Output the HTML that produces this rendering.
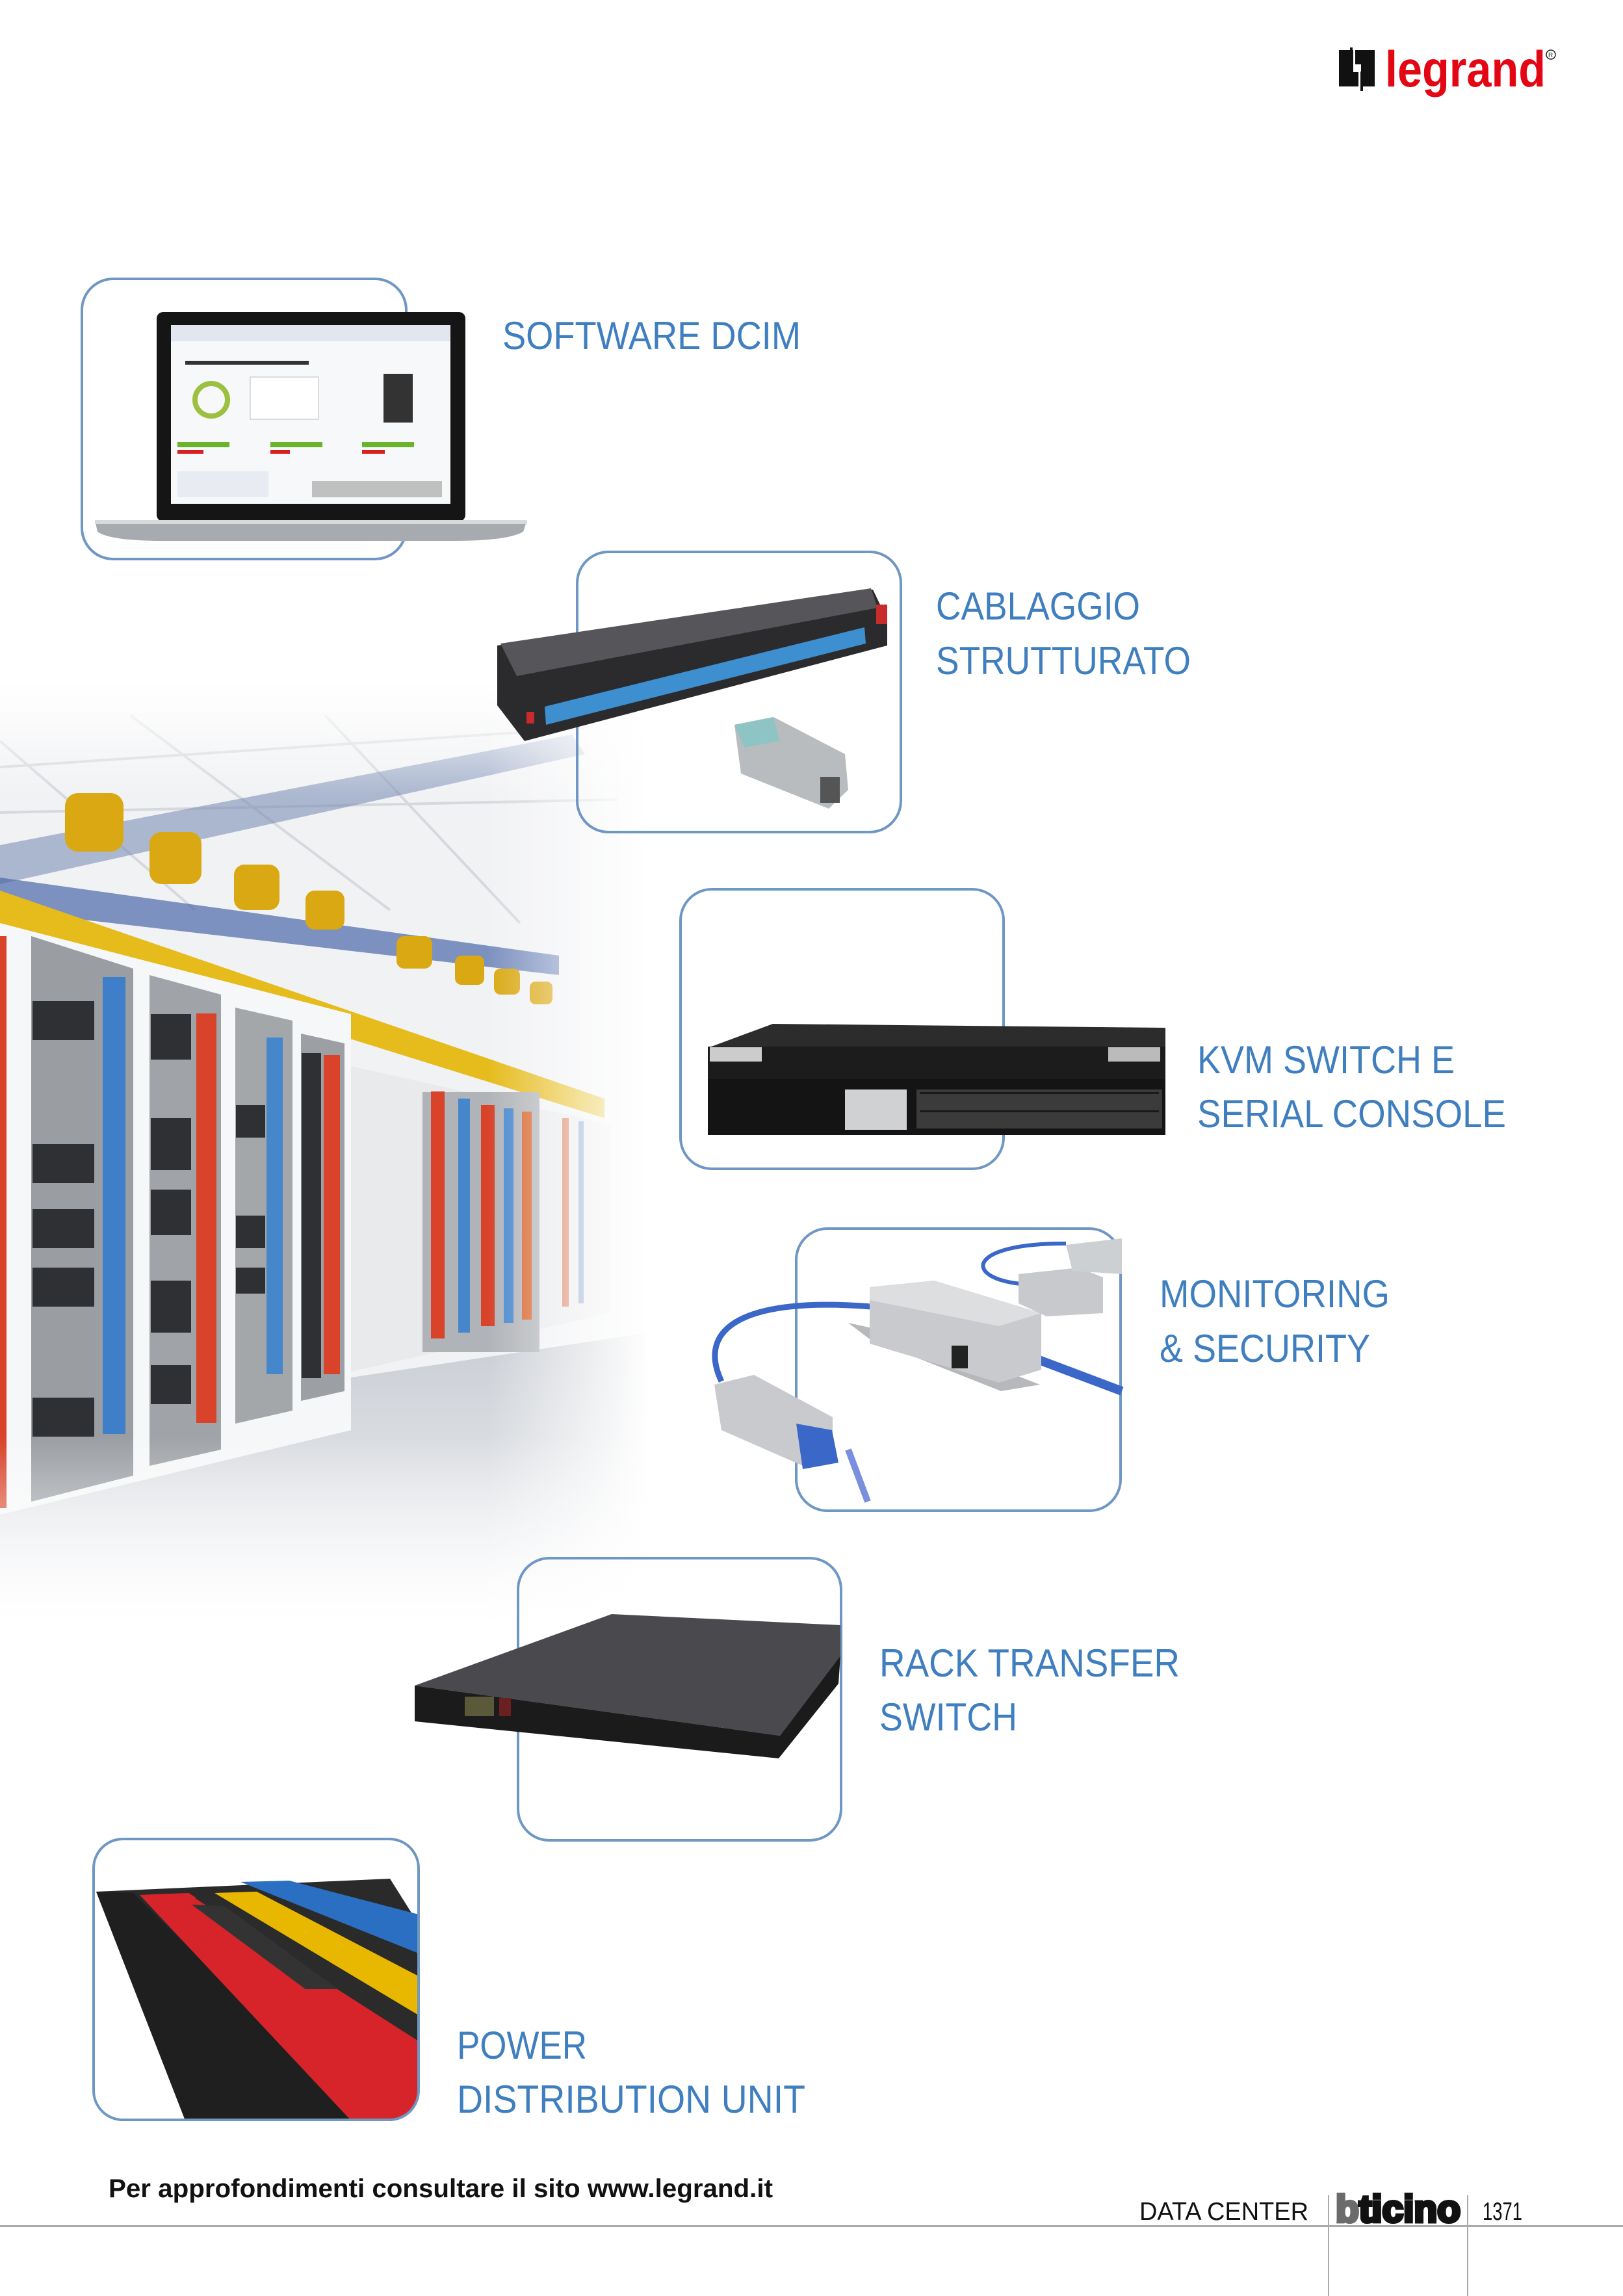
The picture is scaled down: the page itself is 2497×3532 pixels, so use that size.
<!DOCTYPE html>
<html><head><meta charset="utf-8"><style>html,body{margin:0;padding:0;background:#fff}svg{display:block}</style></head>
<body>
<svg width="2497" height="3532" viewBox="0 0 2497 3532" xmlns="http://www.w3.org/2000/svg">
<defs>
<linearGradient id="fadeR" x1="0" y1="0" x2="1" y2="0">
<stop offset="0" stop-color="#fff"/><stop offset="0.75" stop-color="#fff"/><stop offset="1" stop-color="#000"/></linearGradient>
<linearGradient id="fadeV" x1="0" y1="0" x2="0" y2="1">
<stop offset="0" stop-color="#000"/><stop offset="0.12" stop-color="#fff"/><stop offset="0.8" stop-color="#fff"/><stop offset="1" stop-color="#000"/></linearGradient>
<mask id="mR"><rect x="0" y="1050" width="1000" height="1450" fill="url(#fadeR)"/></mask>
<mask id="mV"><rect x="0" y="1050" width="1000" height="1450" fill="url(#fadeV)"/></mask>
<linearGradient id="floor" x1="0" y1="0" x2="0" y2="1"><stop offset="0" stop-color="#c9cdd3"/><stop offset="1" stop-color="#f4f5f7"/></linearGradient>
<clipPath id="c6"><rect x="144" y="2829" width="500" height="432" rx="45"/></clipPath>
</defs>

<g mask="url(#mV)"><g mask="url(#mR)">
<rect x="0" y="1050" width="1000" height="1450" fill="#f1f2f4"/>
<g stroke="#d5d8dd" stroke-width="4" fill="none">
<path d="M0 1180 L900 1120 M0 1250 L950 1230 M200 1100 L600 1400 M500 1100 L800 1420 M0 1140 L300 1400"/>
</g>
<polygon points="0,1300 880,1130 900,1160 0,1360" fill="#7d8fb5" opacity="0.6"/>
<polygon points="0,1350 860,1470 860,1500 0,1400" fill="#4a68a8" opacity="0.7"/>
<polygon points="0,1370 930,1690 930,1720 0,1430" fill="#e6bb1c"/>
<g fill="#d9a812">
<rect x="100" y="1220" width="90" height="90" rx="20"/><rect x="230" y="1280" width="80" height="80" rx="18"/>
<rect x="360" y="1330" width="70" height="70" rx="16"/><rect x="470" y="1370" width="60" height="60" rx="14"/>
<rect x="610" y="1440" width="55" height="50" rx="12"/><rect x="700" y="1470" width="45" height="45" rx="10"/>
<rect x="760" y="1490" width="40" height="40" rx="10"/><rect x="815" y="1510" width="35" height="35" rx="9"/>
</g>
<polygon points="0,2200 1000,2050 1000,2500 0,2500" fill="url(#floor)"/>
<polygon points="0,1420 540,1560 540,2200 0,2330" fill="#f6f7f8"/>
<polygon points="48,1440 205,1490 205,2270 48,2310" fill="#9a9ea3"/>
<polygon points="230,1500 340,1530 340,2230 230,2255" fill="#a0a3a7"/>
<polygon points="362,1550 450,1570 450,2170 362,2190" fill="#a4a7aa"/>
<polygon points="463,1590 530,1605 530,2140 463,2155" fill="#9c9fa3"/>
<g fill="#2e3033">
<rect x="50" y="1540" width="95" height="60"/><rect x="50" y="1760" width="95" height="60"/><rect x="50" y="1860" width="95" height="60"/><rect x="50" y="1950" width="95" height="60"/><rect x="50" y="2150" width="95" height="60"/>
<rect x="232" y="1560" width="62" height="70"/><rect x="232" y="1720" width="62" height="80"/><rect x="232" y="1830" width="62" height="70"/><rect x="232" y="1970" width="62" height="80"/><rect x="232" y="2100" width="62" height="60"/>
<rect x="363" y="1700" width="45" height="50"/><rect x="363" y="1870" width="45" height="50"/><rect x="363" y="1950" width="45" height="40"/>
<rect x="464" y="1620" width="30" height="500"/>
</g>
<rect x="158" y="1503" width="35" height="703" fill="#3f7ec8"/>
<rect x="302" y="1559" width="31" height="630" fill="#d8432a"/>
<rect x="410" y="1596" width="25" height="518" fill="#4687cc"/>
<rect x="498" y="1623" width="25" height="491" fill="#d8432a"/>
<rect x="0" y="1440" width="10" height="880" fill="#d8432a"/>
<polygon points="540,1640 940,1730 940,2020 540,2110" fill="#e9eaec"/>
<rect x="650" y="1680" width="180" height="400" fill="#b0b3b7"/>
<rect x="663" y="1679" width="21" height="380" fill="#d8432a"/>
<rect x="705" y="1690" width="18" height="360" fill="#4687cc"/>
<rect x="740" y="1700" width="21" height="340" fill="#d8432a"/>
<rect x="775" y="1705" width="15" height="330" fill="#4687cc"/>
<rect x="803" y="1710" width="15" height="320" fill="#d8632a"/>
<rect x="865" y="1720" width="10" height="290" fill="#d87a5a"/><rect x="890" y="1725" width="8" height="280" fill="#8aa0c8"/>
</g></g>

<g>
<rect x="2060" y="77" width="22" height="56" fill="#111"/><rect x="2060" y="111" width="30" height="22" fill="#111"/>
<rect x="2085" y="77" width="30" height="22" fill="#111"/><rect x="2094" y="77" width="21" height="56" fill="#111"/>
<rect x="2077" y="73" width="4" height="30" fill="#111"/><rect x="2093" y="110" width="4" height="30" fill="#111"/>
<text x="2131" y="133" font-family="Liberation Sans, sans-serif" font-weight="bold" font-size="78" fill="#e30613" textLength="247" lengthAdjust="spacingAndGlyphs">legrand</text>
<circle cx="2386" cy="84" r="7" fill="none" stroke="#222" stroke-width="1.5"/><text x="2382" y="88" font-family="Liberation Sans, sans-serif" font-size="10" fill="#222">R</text>
</g>

<rect x="126" y="429" width="499" height="431" rx="48" fill="none" stroke="#6f97c3" stroke-width="4"/>
<rect x="241" y="480" width="475" height="322" rx="10" fill="#151515"/>
<rect x="263" y="500" width="430" height="275" fill="#f7f8f9"/>
<rect x="263" y="500" width="430" height="25" fill="#e2e6ee"/>
<rect x="285" y="555" width="190" height="6" fill="#333"/>
<circle cx="325" cy="615" r="25" fill="none" stroke="#9cc040" stroke-width="8"/>
<rect x="385" y="580" width="105" height="65" fill="#fff" stroke="#bbb"/>
<rect x="590" y="575" width="45" height="75" fill="#333"/>
<rect x="273" y="680" width="80" height="8" fill="#6ab42c"/><rect x="273" y="692" width="40" height="6" fill="#d82020"/>
<rect x="416" y="680" width="80" height="8" fill="#6ab42c"/><rect x="416" y="692" width="30" height="6" fill="#d82020"/>
<rect x="557" y="680" width="80" height="8" fill="#6ab42c"/><rect x="557" y="692" width="35" height="6" fill="#d82020"/>
<rect x="273" y="725" width="140" height="40" fill="#e8ecf2"/><rect x="480" y="740" width="200" height="25" fill="#888" opacity="0.5"/>
<path d="M146 800 L811 800 L805 818 Q780 832 700 832 L250 832 Q170 832 150 818 Z" fill="#a7aaae"/>
<rect x="146" y="800" width="665" height="6" fill="#d7d9db"/>

<rect x="888" y="849" width="498" height="431" rx="48" fill="none" stroke="#6f97c3" stroke-width="4"/>
<polygon points="765,993 1343,907 1365,953 1365,993 807,1140 765,1085" fill="#2b2b2d"/>
<polygon points="770,990 1340,905 1350,935 795,1040" fill="#55555a"/>
<polygon points="838,1087 1330,965 1332,990 840,1115" fill="#3d8fcf"/>
<rect x="1348" y="930" width="17" height="30" fill="#c82b2b"/>
<rect x="810" y="1095" width="12" height="18" fill="#c82b2b"/>
<polygon points="1130,1115 1190,1103 1300,1160 1305,1215 1275,1244 1140,1190" fill="#b9bcbf"/>
<polygon points="1130,1115 1190,1103 1200,1140 1145,1150" fill="#8fc4c4"/>
<rect x="1262" y="1195" width="30" height="40" fill="#555"/>

<rect x="1047" y="1368" width="497" height="430" rx="48" fill="none" stroke="#6f97c3" stroke-width="4"/>
<polygon points="1089,1612 1189,1575 1793,1581 1793,1618" fill="#2c2c2c"/>
<rect x="1089" y="1610" width="704" height="50" fill="#1c1c1c"/>
<rect x="1092" y="1611" width="80" height="22" fill="#ccc"/><rect x="1705" y="1611" width="80" height="22" fill="#bbb"/>
<rect x="1089" y="1660" width="704" height="86" fill="#141414"/>
<rect x="1300" y="1676" width="95" height="62" fill="#cfd1d3"/>
<rect x="1410" y="1676" width="378" height="60" fill="#3b3b3b"/>
<g fill="#1a1a1a">
<rect x="1415" y="1680" width="368" height="3"/><rect x="1415" y="1708" width="368" height="3"/>
</g>

<rect x="1225" y="1890" width="499" height="434" rx="48" fill="none" stroke="#6f97c3" stroke-width="4"/>
<path d="M1110 2125 C1070 2040 1150 1995 1340 2010" fill="none" stroke="#3b67c8" stroke-width="9"/>
<path d="M1570 1975 C1480 1965 1490 1912 1640 1913" fill="none" stroke="#3b67c8" stroke-width="6"/>
<path d="M1580 2085 L1726 2140" stroke="#3b67c8" stroke-width="14"/>
<path d="M1305 2230 L1335 2310" stroke="#7a8fdd" stroke-width="10"/>
<polygon points="1305,2035 1338,2060 1540,2140 1600,2130 1420,2060" fill="#b6b8bc"/>
<polygon points="1338,1980 1437,1970 1602,2020 1602,2107 1537,2127 1338,2067" fill="#c8cacd"/>
<polygon points="1338,1980 1437,1970 1602,2020 1537,2040 1338,2000" fill="#dcdee0"/>
<rect x="1464" y="2070" width="25" height="35" fill="#222"/>
<polygon points="1567,1960 1660,1950 1697,1965 1697,2020 1610,2025 1567,2005" fill="#c7c9cc"/>
<polygon points="1640,1915 1726,1905 1726,1960 1650,1955" fill="#cdd0d3"/>
<polygon points="1099,2130 1160,2115 1281,2180 1281,2240 1240,2257 1110,2200" fill="#c8cacd"/>
<polygon points="1225,2190 1280,2200 1290,2250 1235,2260" fill="#3b67c8"/>

<rect x="797" y="2397" width="497" height="434" rx="48" fill="none" stroke="#6f97c3" stroke-width="4"/>
<polygon points="638,2593 941,2483 1293,2500 1293,2547 1200,2670" fill="#4a4a4e"/>
<polygon points="638,2593 1200,2670 1293,2547 1290,2590 1198,2705 638,2648" fill="#1b1b1b"/>
<rect x="715" y="2610" width="45" height="30" fill="#5a5a3a"/><rect x="768" y="2612" width="18" height="28" fill="#6a2020"/>

<g clip-path="url(#c6)">
<polygon points="148,2910 600,2890 644,2960 644,3262 285,3262" fill="#2a2a2a"/>
<polygon points="148,2910 205,2912 560,3262 285,3262" fill="#1f1f1f"/>
<polygon points="215,2915 290,2912 644,3130 644,3262 540,3262" fill="#d6242a"/>
<polygon points="300,2920 330,2915 644,3100 644,3140" fill="#2b2b2b"/>
<polygon points="330,2912 395,2910 644,3040 644,3100" fill="#e8b800"/>
<polygon points="370,2895 445,2893 644,2945 644,3005" fill="#2a6fc2"/>
<polygon points="295,2930 345,2932 520,3060 470,3060" fill="#333"/>
</g>
<rect x="144" y="2829" width="500" height="432" rx="45" fill="none" stroke="#6f97c3" stroke-width="4"/>

<g font-family="Liberation Sans, sans-serif" font-size="60" fill="#3f7fbf">
<text x="773" y="537" textLength="459" lengthAdjust="spacingAndGlyphs">SOFTWARE DCIM</text>
<text x="1440" y="953" textLength="314" lengthAdjust="spacingAndGlyphs">CABLAGGIO</text>
<text x="1440" y="1037" textLength="392" lengthAdjust="spacingAndGlyphs">STRUTTURATO</text>
<text x="1842" y="1651" textLength="396" lengthAdjust="spacingAndGlyphs">KVM SWITCH E</text>
<text x="1842" y="1734" textLength="475" lengthAdjust="spacingAndGlyphs">SERIAL CONSOLE</text>
<text x="1784" y="2011" textLength="354" lengthAdjust="spacingAndGlyphs">MONITORING</text>
<text x="1784" y="2095" textLength="324" lengthAdjust="spacingAndGlyphs">&amp; SECURITY</text>
<text x="1353" y="2579" textLength="462" lengthAdjust="spacingAndGlyphs">RACK TRANSFER</text>
<text x="1353" y="2662" textLength="212" lengthAdjust="spacingAndGlyphs">SWITCH</text>
<text x="703" y="3167" textLength="200" lengthAdjust="spacingAndGlyphs">POWER</text>
<text x="703" y="3250" textLength="536" lengthAdjust="spacingAndGlyphs">DISTRIBUTION UNIT</text>
</g>

<text x="167" y="3380" font-family="Liberation Sans, sans-serif" font-weight="bold" font-size="40" fill="#111" textLength="1022" lengthAdjust="spacingAndGlyphs">Per approfondimenti consultare il sito www.legrand.it</text>
<text x="1753" y="3415" font-family="Liberation Sans, sans-serif" font-size="39" fill="#111" textLength="260" lengthAdjust="spacingAndGlyphs">DATA CENTER</text>
<text x="2055" y="3418" font-family="Liberation Sans, sans-serif" font-weight="bold" font-size="58" fill="#111" stroke="#111" stroke-width="5" textLength="192" lengthAdjust="spacingAndGlyphs"><tspan fill="#6b6b6b" stroke="#6b6b6b">b</tspan>ticino</text>
<text x="2281" y="3415" font-family="Liberation Sans, sans-serif" font-size="39" fill="#111" textLength="61" lengthAdjust="spacingAndGlyphs">1371</text>
<rect x="0" y="3423" width="2497" height="3" fill="#aaa"/>
<rect x="2043" y="3377" width="2" height="155" fill="#aaa"/>
<rect x="2257" y="3377" width="2" height="155" fill="#aaa"/>
</svg>
</body></html>
